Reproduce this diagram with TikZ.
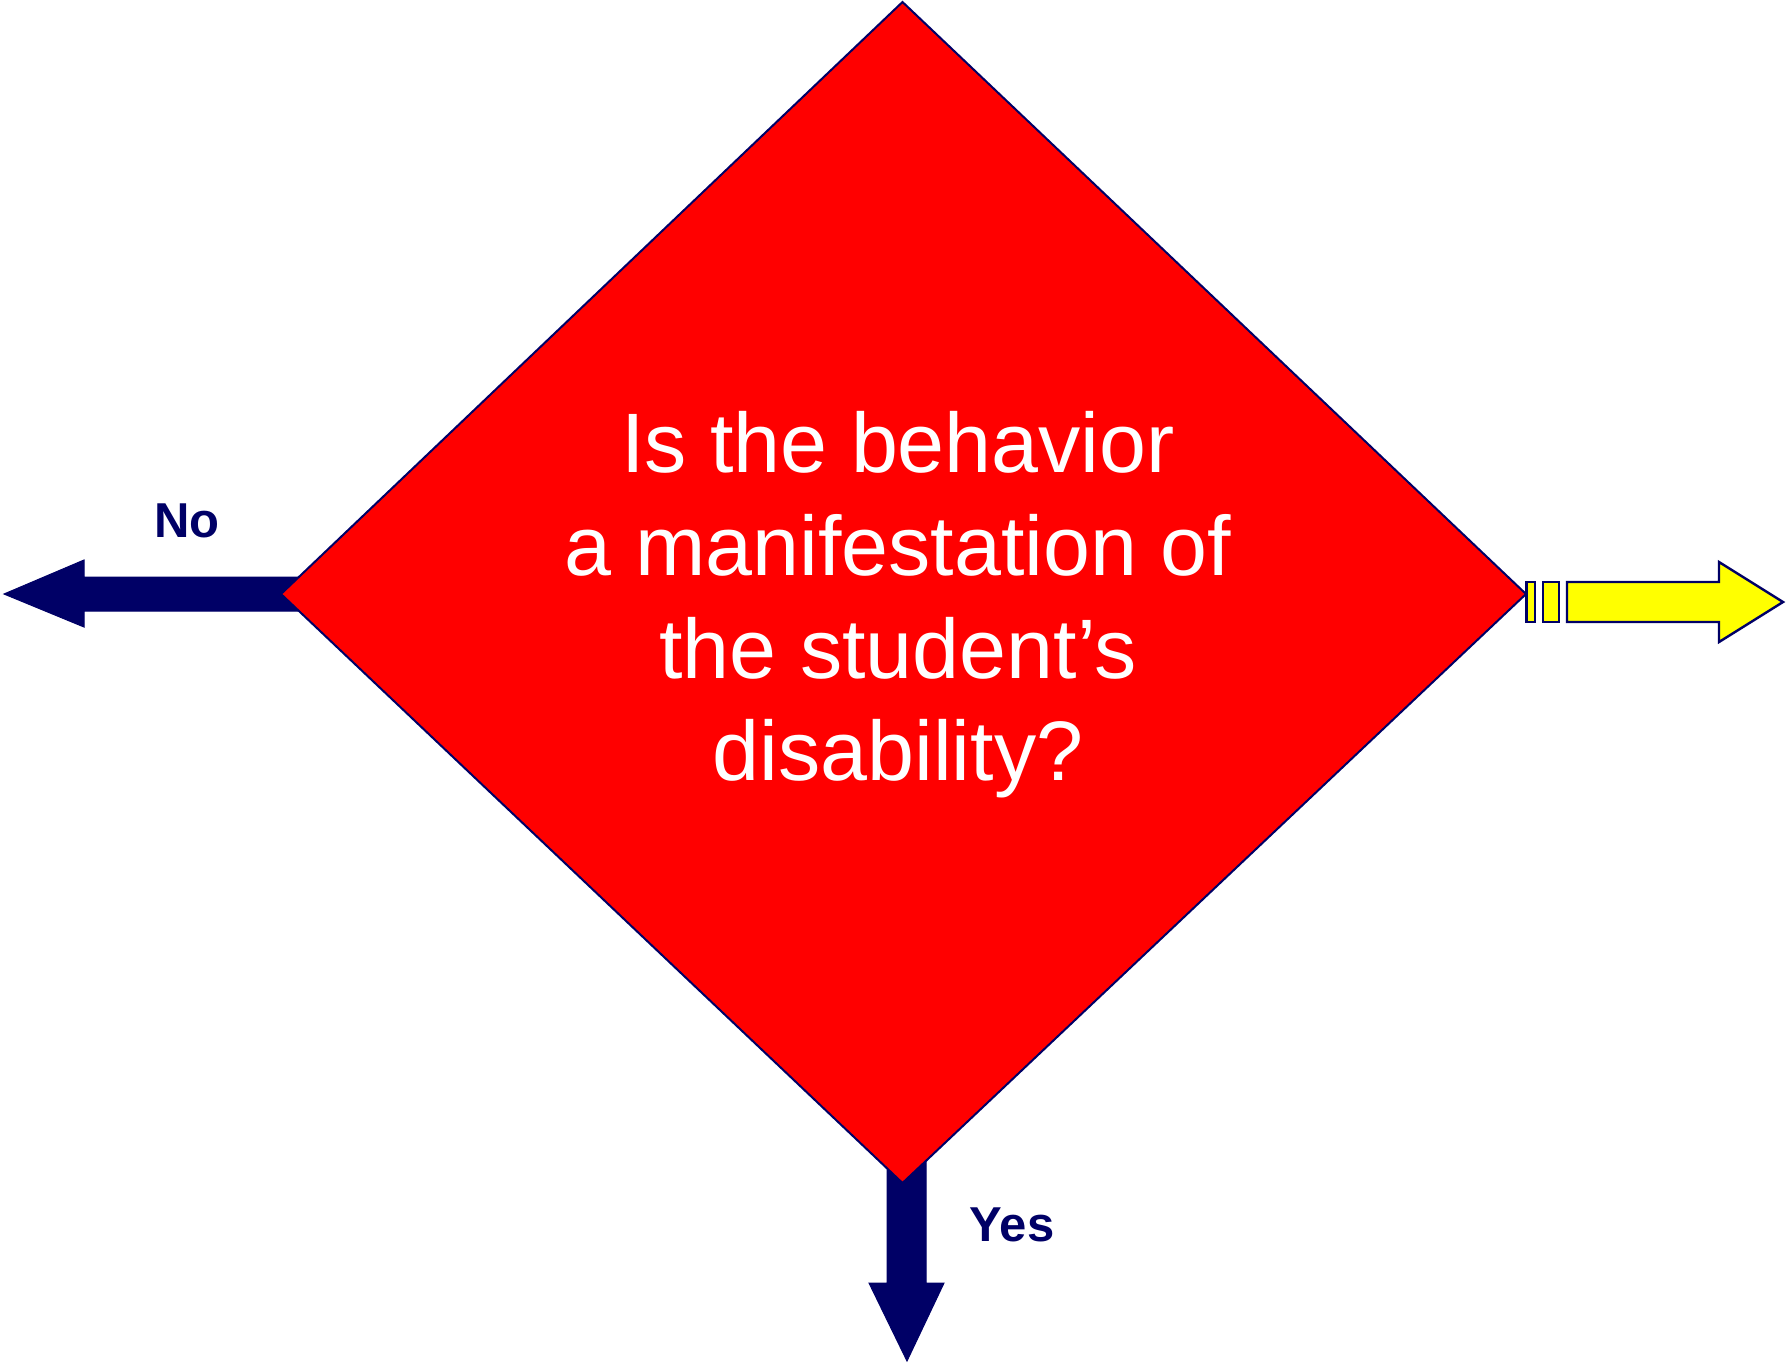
\documentclass[tikz,border=0pt]{standalone}
\usepackage{fontspec}
\setmainfont{Liberation Sans}
\definecolor{navy}{HTML}{000066}
\definecolor{dred}{HTML}{FF0000}
\definecolor{dyel}{HTML}{FFFF00}
\begin{document}
\begin{tikzpicture}[x=0.5pt,y=-0.5pt,
  navyarrow/.style={fill=navy,draw=navy,line width=0.5pt},
  yelpart/.style={fill=dyel,draw=navy,line width=1.2pt,line join=miter},
  lbl/.style={text=navy,font=\fontsize{24.5}{28}\selectfont\bfseries,inner sep=0pt}]
\useasboundingbox (0,0) rectangle (1787,1362);
% No arrow (left)
\fill[navyarrow] (4,594) -- (84,560) -- (84,577) -- (320,577) -- (320,611) -- (84,611) -- (84,627) -- cycle;
% Yes arrow (down)
\fill[navyarrow] (887,1140) -- (926,1140) -- (926,1283) -- (944,1283) -- (907,1361) -- (869,1283) -- (887,1283) -- cycle;
% diamond
\draw[fill=dred,draw=navy,line width=1pt,line join=miter]
  (902.5,2) coordinate (top) -- (1526,594) coordinate (right) -- (902.5,1183) coordinate (bot) -- (281,594) coordinate (left) -- cycle;
\node[text=white,align=center,inner sep=0pt,font=\fontsize{42.2}{51.3}\selectfont] (q) at (898,605)
  {Is the behavior\\a manifestation of\\the student’s\\disability?};
% yellow arrow (right)
\draw[yelpart] (1526.5,582) rectangle (1535,622);
\draw[yelpart] (1543,582) rectangle (1559,622);
\draw[yelpart] (1567,582) -- (1719,582) -- (1719,562) -- (1783,602) -- (1719,642) -- (1719,622) -- (1567,622) -- cycle;
% labels
\node[lbl] (no) at (187,521) {No};
\node[lbl] (yes) at (1012,1225) {Yes};
\end{tikzpicture}
\end{document}
